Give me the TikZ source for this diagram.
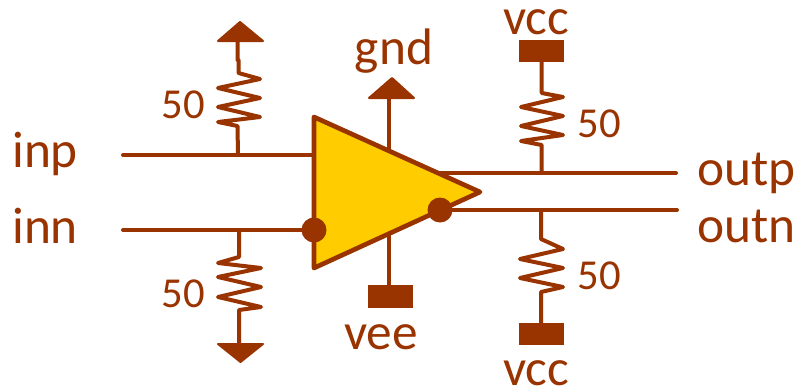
\documentclass[tikz,border=0pt]{standalone}
\usepackage{fontspec}
\setmainfont{Carlito}
\definecolor{rust}{RGB}{153,51,0}
\definecolor{amp}{RGB}{255,204,0}
\tikzset{
  wire/.style={draw=rust,line width=3pt,line join=round,line cap=round},
  thinwire/.style={draw=rust,line width=3pt,line join=round,line cap=round},
  solid shape/.style={fill=rust,draw=rust,line width=1.5pt,line join=round},
  lbl/.style={text=rust,font=\fontsize{38.5}{38.5}\selectfont,inner sep=0pt},
  val/.style={text=rust,font=\fontsize{32}{32}\selectfont,inner sep=0pt}
}
\begin{document}
\begin{tikzpicture}[x=0.75pt,y=-0.75pt]
\useasboundingbox (0,0) rectangle (796,390);
\coordinate (inpL) at (123,155);
\coordinate (inpR) at (314,155);
\coordinate (innL) at (123,230);
\coordinate (innR) at (314,230);
\coordinate (outpL) at (437,173);
\coordinate (outpR) at (676,173);
\coordinate (outnL) at (440,210);
\coordinate (outnR) at (677,210);
\coordinate (j1) at (238,155);
\coordinate (j2) at (239,230);
\coordinate (j3) at (541.7,173);
\coordinate (j4) at (541,210);
\draw[wire] (inpL) -- (inpR);
\draw[wire] (innL) -- (innR);
\draw[wire] (outpL) -- (outpR);
\draw[wire] (outnL) -- (outnR);
\coordinate (gndT) at (389,98);
\coordinate (gndB) at (389,152);
\coordinate (veeT) at (388.5,234);
\coordinate (veeB) at (388.5,285);
\draw[thinwire] (gndT) -- (gndB);
\draw[thinwire] (veeT) -- (veeB);
% amplifier
\node[inner sep=0pt,minimum size=0pt] (ampA) at (314,117) {};
\node[inner sep=0pt,minimum size=0pt] (ampB) at (314,268) {};
\node[inner sep=0pt,minimum size=0pt] (ampC) at (480,192) {};
\draw[fill=amp,draw=rust,line width=3.5pt,line join=round] (ampA.center) -- (ampC.center) -- (ampB.center) -- cycle;
\fill[rust] (innR) circle (12.5);
\fill[rust] (outnL) circle (12.5);
% top-left resistor and arrow
\draw[solid shape] (240,22) -- (263,41) -- (218,41) -- cycle;
\draw[thinwire] (237.5,42) -- (237.5,60) -- (238.5,60) -- (238.5,73) -- (260,79) -- (218,88) -- (260,98) -- (218,107) -- (260,117) -- (218,122) -- (237.5,126) -- (j1);
% bottom-left resistor and arrow
\draw[solid shape] (240.5,362) -- (263,344) -- (218,344) -- cycle;
\draw[thinwire] (j2) -- (239,257) -- (218,263) -- (261,268) -- (218,277) -- (261,287) -- (218,297) -- (261,307) -- (239,310) -- (239,344);
% gnd arrow
\draw[solid shape] (392,78) -- (414,98) -- (369,98) -- cycle;
% vee box
\fill[rust] (368,285) rectangle (413,308);
% top-right resistor and box
\fill[rust] (519,40) rectangle (564,62);
\draw[thinwire] (541.7,62) -- (541.7,93) -- (563,97) -- (521,107) -- (563,116) -- (521,126) -- (563,135) -- (521,141) -- (541.7,145) -- (j3);
% bottom-right resistor and box
\fill[rust] (519,323) rectangle (564,345);
\draw[thinwire] (j4) -- (541,230) -- (541,239) -- (563,249) -- (520,259) -- (563,268) -- (520,278) -- (563,287) -- (541,292) -- (541,323);
% labels
\node[lbl,anchor=base west] (tinp) at (12,167) {inp};
\node[lbl,anchor=base west] (tinn) at (12,243) {inn};
\node[lbl,anchor=base west] (toutp) at (697,185) {outp};
\node[lbl,anchor=base west] (toutn) at (697,242) {outn};
\node[lbl,anchor=base] (tgnd) at (394,64) {gnd};
\node[lbl,anchor=base] (tvcc1) at (536,34) {vcc};
\node[lbl,anchor=base] (tvee) at (381,349) {vee};
\node[lbl,anchor=base] (tvcc2) at (536,385) {vcc};
\node[val,anchor=base] (r1) at (183,118) {50};
\node[val,anchor=base] (r2) at (183,307) {50};
\node[val,anchor=base] (r3) at (599,137) {50};
\node[val,anchor=base] (r4) at (599,289) {50};
\end{tikzpicture}
\end{document}
